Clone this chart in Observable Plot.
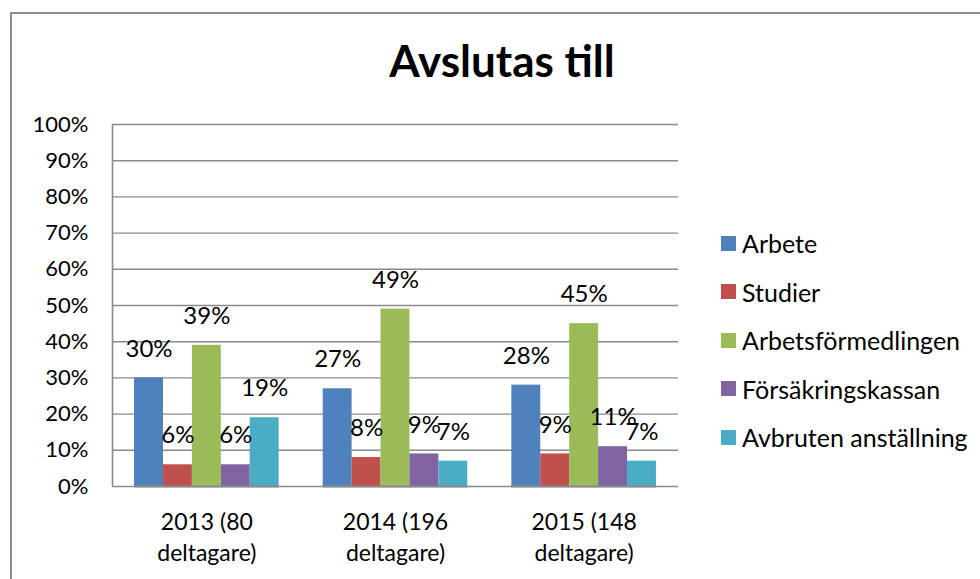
<!DOCTYPE html>
<html>
<head>
<meta charset="utf-8">
<script src="https://cdn.jsdelivr.net/npm/d3@7"></script>
<script src="https://cdn.jsdelivr.net/npm/@observablehq/plot@0.6"></script>
<style>
  html, body { margin: 0; padding: 0; background: #fff; overflow: hidden; }
  #wrap { position: relative; width: 980px; height: 579px; overflow: hidden; font-family: Lato, sans-serif; }
  #frame { position: absolute; left: 10px; top: 12px; width: 1000px; height: 600px; border: 2px solid #8e8e8e; box-sizing: border-box; }
  #title { position: absolute; left: 0; width: 1004px; top: 35px; text-align: center; font: bold 44px Lato, sans-serif; line-height: 50px; color: #000; }
  .layer { position: absolute; left: 0; top: 0; }
  #legend { position: absolute; left: 721px; top: 219px; font: 25px Lato, sans-serif; color: #000; }
  #legend .row { height: 48.5px; display: flex; align-items: center; white-space: nowrap; }
  #legend .sw { width: 15px; height: 15px; margin-right: 6px; flex: none; }
</style>
</head>
<body>
<div id="wrap">
  <div id="frame"></div>
  <div id="title">Avslutas till</div>
  <div id="bg" class="layer"></div>
  <div id="fg" class="layer"></div>
  <div id="legend"></div>
</div>
<script>
const years = ["2013 (80 deltagare)", "2014 (196 deltagare)", "2015 (148 deltagare)"];
const yearLines = [["2013 (80", "deltagare)"], ["2014 (196", "deltagare)"], ["2015 (148", "deltagare)"]];
const series = ["Arbete", "Studier", "Arbetsförmedlingen", "Försäkringskassan", "Avbruten anställning"];
const colors = ["#4F81BD", "#C0504D", "#9BBB59", "#8064A2", "#4BACC6"];
const arbete = [30, 27, 28];
const studier = [6, 8, 9];
const arbetsformedlingen = [39, 49, 45];
const forsakringskassan = [6, 9, 11];
const avbruten = [19, 7, 7];
const yTicks = [0, 10, 20, 30, 40, 50, 60, 70, 80, 90, 100];

const seriesValues = [arbete, studier, arbetsformedlingen, forsakringskassan, avbruten];
const data = [];
years.forEach((yr, i) => {
  series.forEach((s, j) => data.push({year: yr, series: s, value: seriesValues[j][i] / 100}));
});

const W = 980, H = 579;
const mL = 112, mR = 302, mT = 124, mB = 93;
const font = "Lato, sans-serif";

// background layer: grid, axis line, y tick labels
const bg = Plot.plot({
  width: W, height: H,
  marginLeft: mL, marginRight: mR, marginTop: mT, marginBottom: mB,
  style: {fontFamily: font, background: "transparent"},
  x: {domain: [0, 1], axis: null},
  y: {domain: [0, 1], axis: null},
  marks: [
    Plot.ruleY(yTicks.map(d => d / 100), {stroke: "#8a8a8a", strokeWidth: 1.4}),
    Plot.ruleX([0], {y1: 0, y2: 1, stroke: "#8a8a8a", strokeWidth: 1.6}),
    Plot.axisY({ticks: yTicks.map(d => d / 100), tickFormat: d => Math.round(d * 100) + "%", tickSize: 0, tickPadding: 24, fontSize: 22, fill: "#000"})
  ]
});
document.getElementById("bg").appendChild(bg);

// foreground: bars, labels, x axis
const fg = Plot.plot({
  width: W, height: H,
  marginLeft: mL, marginRight: mR, marginTop: mT, marginBottom: mB,
  style: {fontFamily: font, background: "transparent"},
  fx: {domain: years, paddingInner: 0.2335, paddingOuter: 0.1168, round: false, label: null},
  x: {domain: series, padding: 0, round: false, axis: null},
  y: {domain: [0, 1], axis: null},
  color: {domain: series, range: colors},
  marks: [
    Plot.barY(data, {fx: "year", x: "series", y: "value", fill: "series", inset: 0}),
    Plot.ruleY([0], {stroke: "#8a8a8a", strokeWidth: 2}),
    Plot.text(data, {fx: "year", x: "series", y: "value", text: d => Math.round(d.value * 100) + "%", dy: -29, fontSize: 24, fill: "#000", lineAnchor: "middle"}),
    Plot.axisFx({anchor: "bottom", tickSize: 0, tickPadding: 21, fontSize: 23, fill: "#000", lineHeight: 1.35, label: null,
      tickFormat: d => yearLines[years.indexOf(d)].join("\n")})
  ]
});
document.getElementById("fg").appendChild(fg);

// legend from the plot's color scale
const cs = fg.scale("color");
const leg = document.getElementById("legend");
cs.domain.forEach((s, i) => {
  const row = document.createElement("div");
  row.className = "row";
  const sw = document.createElement("div");
  sw.className = "sw";
  sw.style.background = cs.range[i];
  const t = document.createElement("span");
  t.textContent = s;
  row.appendChild(sw); row.appendChild(t);
  leg.appendChild(row);
});
</script>
</body>
</html>
